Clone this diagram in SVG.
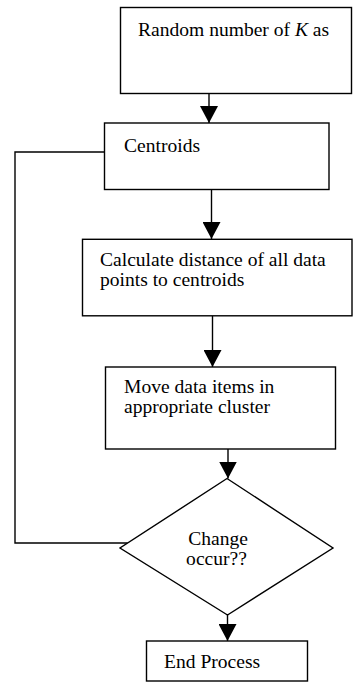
<svg xmlns="http://www.w3.org/2000/svg" width="353" height="685" viewBox="0 0 353 685">
<style>
.box{fill:#fff;stroke:#000;stroke-width:1.4}
.ln{fill:none;stroke:#000;stroke-width:1.4}
.t{font-family:'Liberation Serif','Times New Roman','DejaVu Serif',serif;font-size:19px;fill:#000}
</style>
<defs>
<marker id="ah" viewBox="0 0 17 18" refX="17" refY="9" markerWidth="17" markerHeight="18" markerUnits="userSpaceOnUse" orient="auto">
<path d="M0,0 L17,9 L0,18 z" fill="#000"/>
</marker>
</defs>
<rect width="353" height="685" fill="#fff"/>
<g id="connectors">
<line class="ln" x1="209" y1="93" x2="209" y2="123" marker-end="url(#ah)"/>
<line class="ln" x1="211.5" y1="189" x2="211.5" y2="239" marker-end="url(#ah)"/>
<line class="ln" x1="212.5" y1="316" x2="212.5" y2="367" marker-end="url(#ah)"/>
<line class="ln" x1="228" y1="449" x2="228" y2="478.5" marker-end="url(#ah)"/>
<line class="ln" x1="227.5" y1="615" x2="227.5" y2="641" marker-end="url(#ah)"/>
<polyline class="ln" points="104,152 15,152 15,543 127.6,543"/>
</g>
<g id="n1">
<rect class="box" x="120.5" y="7.5" width="231" height="86"/>
<text class="t" transform="translate(138,36) scale(1.03,1)">Random number of <tspan font-style="italic">K</tspan> as</text>
</g>
<g id="n2">
<rect class="box" x="104.5" y="123" width="224.5" height="66.5"/>
<text class="t" transform="translate(124,152) scale(1.03,1)">Centroids</text>
</g>
<g id="n3">
<rect class="box" x="82.5" y="239.3" width="269.5" height="76.5"/>
<text class="t" transform="translate(100,266) scale(1.03,1)">Calculate distance of all data</text>
<text class="t" transform="translate(100,286) scale(1.03,1)">points to centroids</text>
</g>
<g id="n4">
<rect class="box" x="105.5" y="367" width="230" height="82"/>
<text class="t" transform="translate(124,393) scale(1.03,1)">Move data items in</text>
<text class="t" transform="translate(124,413) scale(1.03,1)">appropriate cluster</text>
</g>
<g id="n5">
<polygon class="box" points="227,478.5 333,548 227.5,615 120,548"/>
<text class="t" text-anchor="middle" transform="translate(218,545) scale(1.03,1)">Change</text>
<text class="t" text-anchor="middle" transform="translate(216.5,565) scale(1.03,1)">occur??</text>
</g>
<g id="n6">
<rect class="box" x="146.5" y="641" width="161" height="40"/>
<text class="t" transform="translate(164,668) scale(1.03,1)">End Process</text>
</g>
</svg>
